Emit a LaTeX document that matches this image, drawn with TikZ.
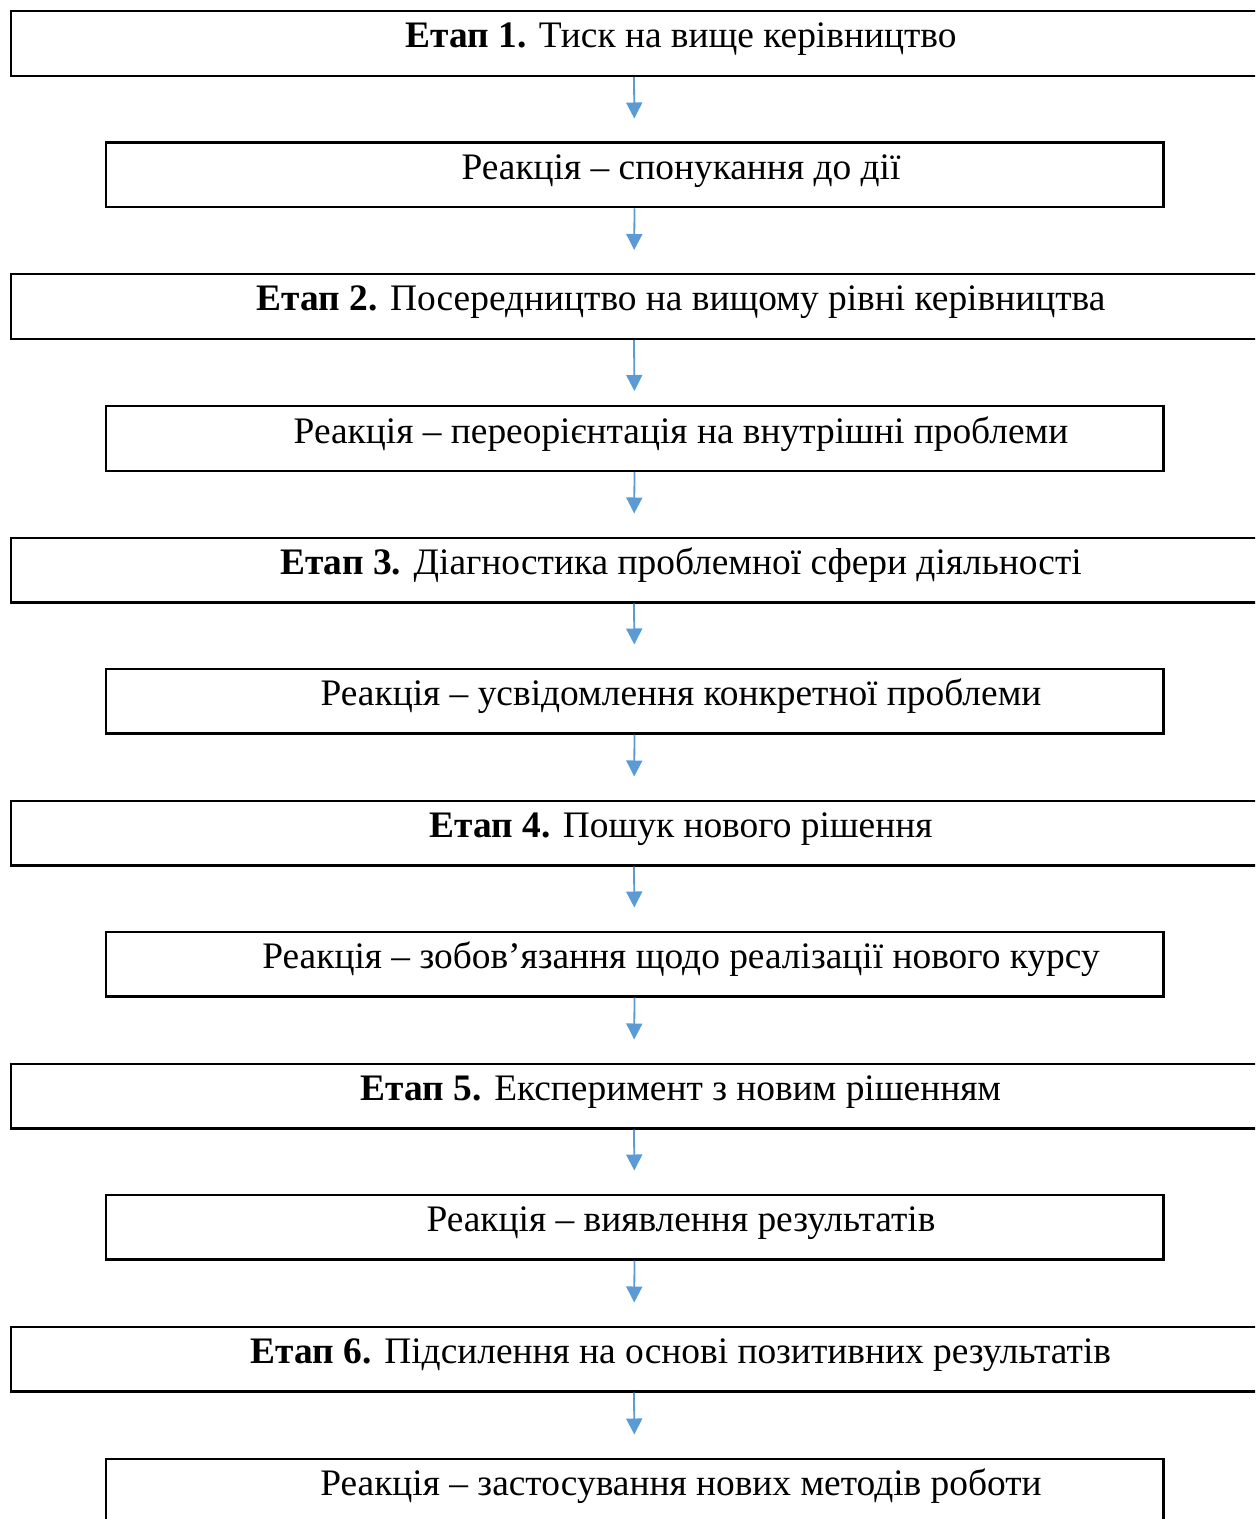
\documentclass[tikz,border=0pt]{standalone}
\usepackage{fontspec}
\setmainfont{Liberation Serif}
\usetikzlibrary{arrows.meta}
\definecolor{arrblue}{HTML}{5B9BD5}
\tikzset{
  x=0.5pt, y=-0.5pt,
  boxbase/.style={draw=black, line width=1.2pt, rectangle, inner sep=0pt, minimum height=32.3pt},
  widebox/.style={boxbase, minimum width=623pt},
  narrowbox/.style={boxbase, minimum width=528.8pt},
  txt/.style={anchor=base, inner sep=0pt, font=\fontsize{18.7}{22}\selectfont},
  arr/.style={draw=arrblue, line width=0.9pt, -{Triangle[length=8pt,width=8pt]}, shorten >=11.5pt},
}
\begin{document}
\begin{tikzpicture}
\useasboundingbox (0,0) rectangle (1255,1519);
\clip (0,0) rectangle (1255,1519);
\node[widebox]   (b1)  at (634,43.5) {};
\node[narrowbox] (b2)  at (634.5,175) {};
\node[widebox]   (b3)  at (634,306.5) {};
\node[narrowbox] (b4)  at (634.5,438.5) {};
\node[widebox]   (b5)  at (634,570) {};
\node[narrowbox] (b6)  at (634.5,701) {};
\node[widebox]   (b7)  at (634,833) {};
\node[narrowbox] (b8)  at (634.5,964) {};
\node[widebox]   (b9)  at (634,1096) {};
\node[narrowbox] (b10) at (634.5,1227) {};
\node[widebox]   (b11) at (634,1359) {};
\node[narrowbox] (b12) at (634.5,1491) {};

\node[txt] (t1)  at ([xshift=23.5pt,yshift=-19pt]b1.north)  {\textbf{Етап 1.} Тиск на вище керівництво};
\node[txt] (t2)  at ([xshift=23.25pt,yshift=-19pt]b2.north) {Реакція – спонукання до дії};
\node[txt] (t3)  at ([xshift=23.5pt,yshift=-19pt]b3.north)  {\textbf{Етап 2.} Посередництво на вищому рівні керівництва};
\node[txt] (t4)  at ([xshift=23.25pt,yshift=-19pt]b4.north) {Реакція – переорієнтація на внутрішні проблеми};
\node[txt] (t5)  at ([xshift=23.5pt,yshift=-19pt]b5.north)  {\textbf{Етап 3.} Діагностика проблемної сфери діяльності};
\node[txt] (t6)  at ([xshift=23.25pt,yshift=-19pt]b6.north) {Реакція – усвідомлення конкретної проблеми};
\node[txt] (t7)  at ([xshift=23.5pt,yshift=-19pt]b7.north)  {\textbf{Етап 4.} Пошук нового рішення};
\node[txt] (t8)  at ([xshift=23.25pt,yshift=-19pt]b8.north) {Реакція – зобов’язання щодо реалізації нового курсу};
\node[txt] (t9)  at ([xshift=23.5pt,yshift=-19pt]b9.north)  {\textbf{Етап 5.} Експеримент з новим рішенням};
\node[txt] (t10) at ([xshift=23.25pt,yshift=-19pt]b10.north) {Реакція – виявлення результатів};
\node[txt] (t11) at ([xshift=23.5pt,yshift=-19pt]b11.north)  {\textbf{Етап 6.} Підсилення на основі позитивних результатів};
\node[txt] (t12) at ([xshift=23.25pt,yshift=-19pt]b12.north) {Реакція – застосування нових методів роботи};

\draw[arr] (b1.south) -- (b2.north);
\draw[arr] (b2.south) -- (b3.north);
\draw[arr, shorten >=7pt] (b3.south) -- (b4.north);
\draw[arr] (b4.south) -- (b5.north);
\draw[arr] (b5.south) -- (b6.north);
\draw[arr] (b6.south) -- (b7.north);
\draw[arr] (b7.south) -- (b8.north);
\draw[arr] (b8.south) -- (b9.north);
\draw[arr] (b9.south) -- (b10.north);
\draw[arr] (b10.south) -- (b11.north);
\draw[arr] (b11.south) -- (b12.north);
\end{tikzpicture}
\end{document}
